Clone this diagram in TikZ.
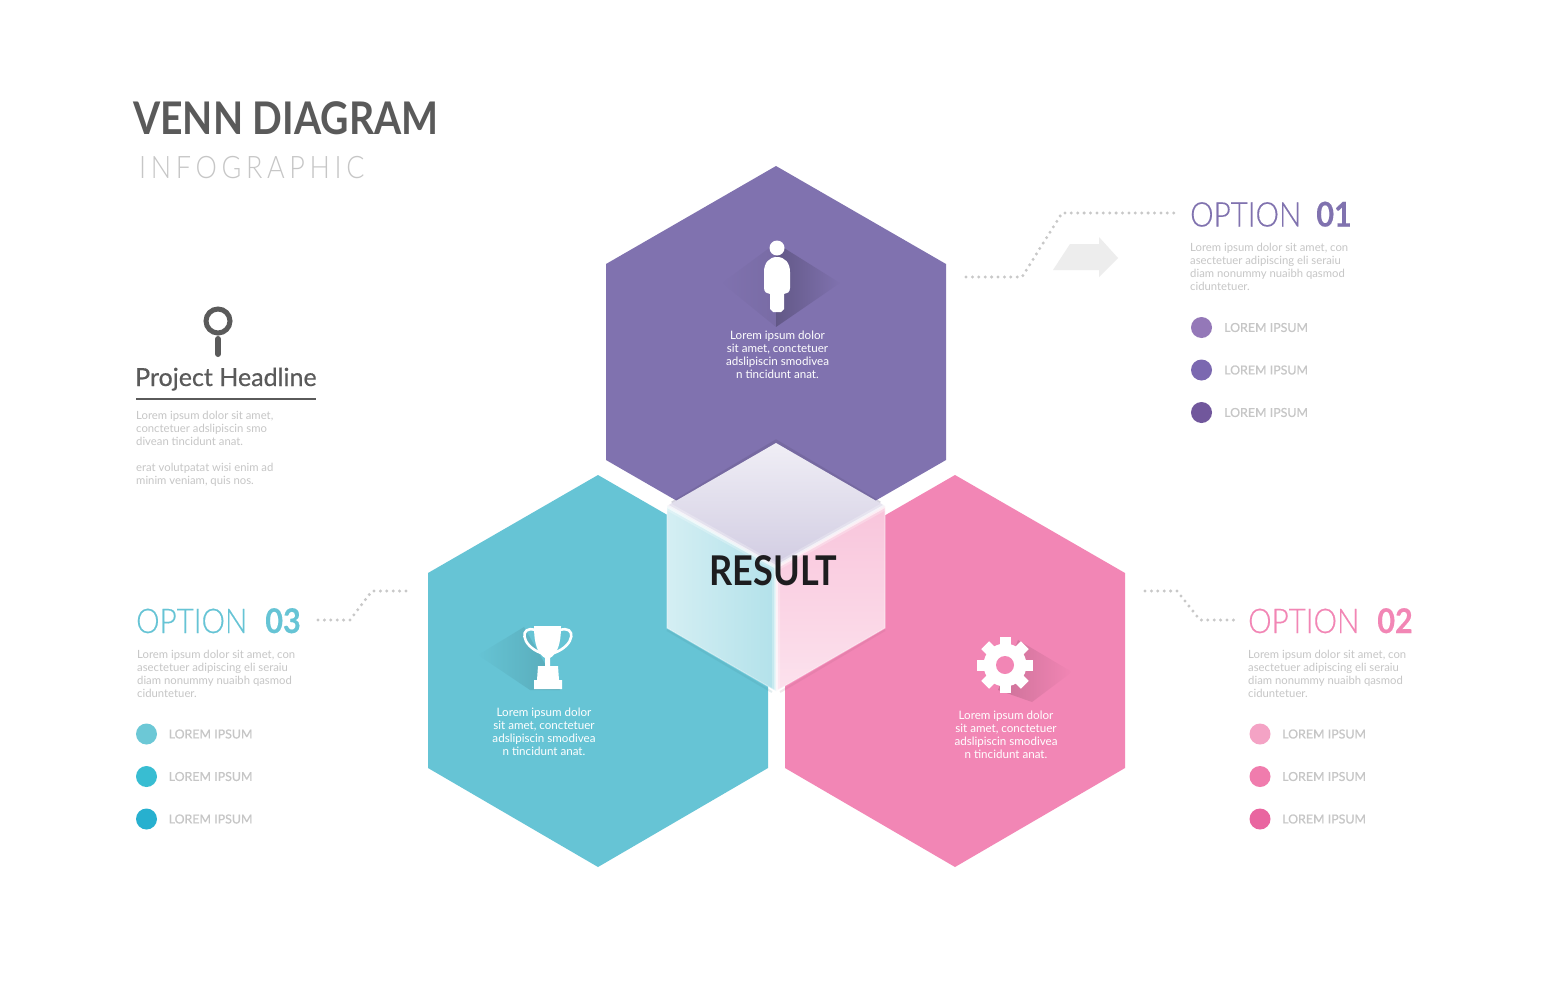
\documentclass[tikz,border=0pt]{standalone}
\usepackage{fontspec}
\setmainfont{Lato}
\newfontfamily\thinfont{Lato Light}[FakeStretch=.87,FakeBold=.35]
\newfontfamily\numfont{Lato Bold}[FakeStretch=.9,FakeBold=.3]
\usetikzlibrary{calc,fadings}
\definecolor{hexpurple}{HTML}{8072AF}
\definecolor{hexteal}{HTML}{66C4D5}
\definecolor{hexpink}{HTML}{F286B5}
\definecolor{inkdark}{HTML}{5A5A5A}
\definecolor{inkpale}{HTML}{C6C6C6}
\definecolor{dotgray}{HTML}{C8C8C8}

\begin{document}
\begin{tikzpicture}[x=1pt,y=-1pt,
  hex/.style={draw=none},
  leader/.style={dotgray,line width=3.3pt,line cap=round,dash pattern=on 0pt off 6.4pt},
  glow/.style={white,line cap=round},
  icon/.style={white,draw=none},
  body/.style={inkpale,font=\fontsize{11.3}{13}\selectfont,align=left,anchor=north west,inner sep=0pt},
  inhex/.style={white,font=\fontsize{11.6}{13}\selectfont,align=center,inner sep=0pt},
  optlabel/.style={font=\thinfont\fontsize{34}{36}\selectfont,anchor=base west,inner sep=0pt},
  item/.style={inkpale,font=\fontsize{12.4}{14}\selectfont\addfontfeatures{FakeBold=.5},anchor=west,inner sep=0pt}]
\useasboundingbox (0,0) rectangle (1547,980);
\fill[white] (0,0) rectangle (1547,980);
% hexagons
\fill[hex,hexpurple] (776,166)--(946,264)--(946,460)--(776,558)--(606,460)--(606,264)--cycle;
\fill[white] (598,463)--(776,566)--(954,463)--(954,590)--(776,700)--(598,590)--cycle;
\fill[hex,hexteal] (598,475)--(768,573)--(768,768)--(598,867)--(428,768)--(428,573)--cycle;
\fill[hex,hexpink] (955,475)--(1125,573)--(1125,768)--(955,867)--(785,768)--(785,573)--cycle;
% long shadows of the icons
\fill[hexpurple!55!black,opacity=.5,path fading=east] (776,243)--(840,283)--(776,327)--cycle;
\fill[hexpurple!55!black,opacity=.12,path fading=west] (722,283)--(776,243)--(776,327)--cycle;
\fill[hexteal!55!black,opacity=.3,path fading=west] (478,655)--(524,627)--(560,690)--(530,690)--cycle;
\fill[hexpink!55!black,opacity=.35,path fading=east] (1018,640)--(1072,672)--(1032,702)--(998,690)--cycle;
% result cube
\draw[hexpurple!70!black,line width=3pt,opacity=.25] (672,503)--(776,441)--(880,503);
\shade[top color=white!88!hexpurple,bottom color=hexpurple!36!white] (776,443)--(885,506)--(776,567)--(667,506)--cycle;
\shade[left color=hexteal!28!white,right color=hexteal!50!white] (667,506)--(776,567)--(776,691)--(667,628)--cycle;
\shade[shading angle=-60,top color=hexpink!48!white,bottom color=hexpink!24!white] (885,506)--(776,567)--(776,691)--(885,628)--cycle;
\draw[hexpink!70!black,line width=2pt,opacity=.15] (780,692)--(885,630);
\draw[hexteal!70!black,line width=2pt,opacity=.15] (772,692)--(667,630);
\draw[glow,line width=8pt,opacity=.25] (667,506)--(776,567)--(885,506) (776,567)--(776,691);
\draw[glow,line width=3.5pt,opacity=.6] (667,506)--(776,567)--(885,506) (776,567)--(776,691);
\draw[white,line width=1.2pt,opacity=.35] (667,506)--(667,628)--(776,691)--(885,628)--(885,506);
\node (res) at (773.5,570.5) {\fontsize{41}{41}\selectfont\addfontfeatures{FakeStretch=.88}\bfseries\color[HTML]{1D1D1F}RESULT};
% person icon
\fill[icon] (777,248) circle (7.5);
\fill[icon] (777,257) .. controls (769,257) and (764,263) .. (764,272) -- (764,288) .. controls (764,292) and (767,294) .. (770,294) -- (770,309) -- (773,312) -- (781,312) -- (784,309) -- (784,294) .. controls (787,294) and (790,292) .. (790,288) -- (790,272) .. controls (790,263) and (785,257) .. (777,257) -- cycle;
% trophy icon
\draw[white,line width=2.6pt] (535,630) .. controls (520,625) and (520,645) .. (541,653);
\draw[white,line width=2.6pt] (560,630) .. controls (576,625) and (576,645) .. (554,653);
\fill[icon] (534,626) -- (561,626) .. controls (561,645) and (557,654) .. (550,658) -- (550,666) -- (558,666) -- (559,680) -- (562,680) -- (562,689) -- (534,689) -- (534,680) -- (537,680) -- (538,666) -- (545,666) -- (545,658) .. controls (538,654) and (534,645) .. (534,626) -- cycle;
% gear icon
\foreach \ang in {0,45,...,315}
  \fill[icon,rotate around={\ang:(1005,665)}] (999.5,637) rectangle (1010.5,650);
\fill[icon] (1005,665) circle (21.5);
\fill[hexpink] (1005,665) circle (9);
% heading
\node[anchor=base west,inner sep=0pt,text=inkdark] (title) at (133,134.5) {\fontsize{45}{48}\selectfont\addfontfeatures{FakeStretch=.87}\bfseries VENN DIAGRAM};
\node[anchor=base west,inner sep=0pt,text=inkpale] (subtitle) at (139,178) {\thinfont\addfontfeatures{LetterSpace=15,FakeBold=0}\fontsize{31}{33}\selectfont INFOGRAPHIC};
% project headline
\draw[inkdark,line width=5pt] (218,321) circle (12);
\draw[inkdark,line width=6pt,line cap=round] (218,339)--(218,354);
\node[anchor=base west,inner sep=0pt,text=inkdark] (head) at (135,386) {\fontsize{25}{27}\selectfont\addfontfeatures{FakeBold=.5}Project Headline};
\draw[inkdark,line width=2pt] (136,398.5)--(316,398.5);
\node[body] (headtxt) at (136,410.5) {Lorem ipsum dolor sit amet,\\conctetuer adslipiscin smo\\divean tincidunt anat.\\[13pt]erat volutpatat wisi enim ad\\minim veniam, quis nos.};
% hexagon texts
\node[inhex] (txt1) at (777.5,355) {Lorem ipsum dolor\\sit amet, conctetuer\\adslipiscin smodivea\\n tincidunt anat.};
\node[inhex] (txt2) at (1006,735) {Lorem ipsum dolor\\sit amet, conctetuer\\adslipiscin smodivea\\n tincidunt anat.};
\node[inhex] (txt3) at (544,731.5) {Lorem ipsum dolor\\sit amet, conctetuer\\adslipiscin smodivea\\n tincidunt anat.};
% option 01
\coordinate (a1) at (966,277); \coordinate (a2) at (1022,277); \coordinate (a3) at (1062,213); \coordinate (a4) at (1175,213);
\draw[leader] (a1)--(a2)--(a3)--(a4);
\fill[black!7] (1053,270)--(1070,244)--(1099,244)--(1099,237)--(1118,258)--(1099,277)--(1099,270)--cycle;
\node[optlabel,text=hexpurple] (opt1) at (1190,226.5) {OPTION\hspace{15pt}{\numfont 01}};
\node[body] (opt1txt) at (1190,242.5) {Lorem ipsum dolor sit amet, con\\asectetuer adipiscing eli seraiu\\diam nonummy nuaibh qasmod\\ciduntetuer.};
\fill[fill={rgb,255:red,148;green,120;blue,184}] (1201.5,327.5) circle (10.5);
\fill[fill={rgb,255:red,123;green,104;blue,176}] (1201.5,370) circle (10.5);
\fill[fill={rgb,255:red,113;green,87;blue,156}] (1201.5,412.5) circle (10.5);
\node[item] (it11) at (1224,327.5) {LOREM IPSUM};
\node[item] (it12) at (1224,370) {LOREM IPSUM};
\node[item] (it13) at (1224,412.5) {LOREM IPSUM};
% option 02
\coordinate (b1) at (1145,591); \coordinate (b2) at (1177,591); \coordinate (b3) at (1200,620); \coordinate (b4) at (1234,620);
\draw[leader] (b1)--(b2)--(b3)--(b4);
\node[optlabel,text=hexpink] (opt2) at (1248,633) {OPTION\hspace{18pt}{\numfont 02}};
\node[body] (opt2txt) at (1248,649.5) {Lorem ipsum dolor sit amet, con\\asectetuer adipiscing eli seraiu\\diam nonummy nuaibh qasmod\\ciduntetuer.};
\fill[fill={rgb,255:red,244;green,163;blue,197}] (1260,734) circle (10.5);
\fill[fill={rgb,255:red,240;green,124;blue,173}] (1260,776.5) circle (10.5);
\fill[fill={rgb,255:red,233;green,101;blue,160}] (1260,819) circle (10.5);
\node[item] (it21) at (1282,734) {LOREM IPSUM};
\node[item] (it22) at (1282,776.5) {LOREM IPSUM};
\node[item] (it23) at (1282,819) {LOREM IPSUM};
% option 03
\coordinate (c1) at (318,620); \coordinate (c2) at (350,620); \coordinate (c3) at (372,591); \coordinate (c4) at (407,591);
\draw[leader] (c1)--(c2)--(c3)--(c4);
\node[optlabel,text=hexteal] (opt3) at (136,633) {OPTION\hspace{18pt}{\numfont 03}};
\node[body] (opt3txt) at (137,649.5) {Lorem ipsum dolor sit amet, con\\asectetuer adipiscing eli seraiu\\diam nonummy nuaibh qasmod\\ciduntetuer.};
\fill[fill={rgb,255:red,108;green,200;blue,214}] (146.5,734) circle (10.5);
\fill[fill={rgb,255:red,56;green,189;blue,210}] (146.5,776.5) circle (10.5);
\fill[fill={rgb,255:red,39;green,176;blue,207}] (146.5,819) circle (10.5);
\node[item] (it31) at (168.5,734) {LOREM IPSUM};
\node[item] (it32) at (168.5,776.5) {LOREM IPSUM};
\node[item] (it33) at (168.5,819) {LOREM IPSUM};
\end{tikzpicture}
\end{document}
